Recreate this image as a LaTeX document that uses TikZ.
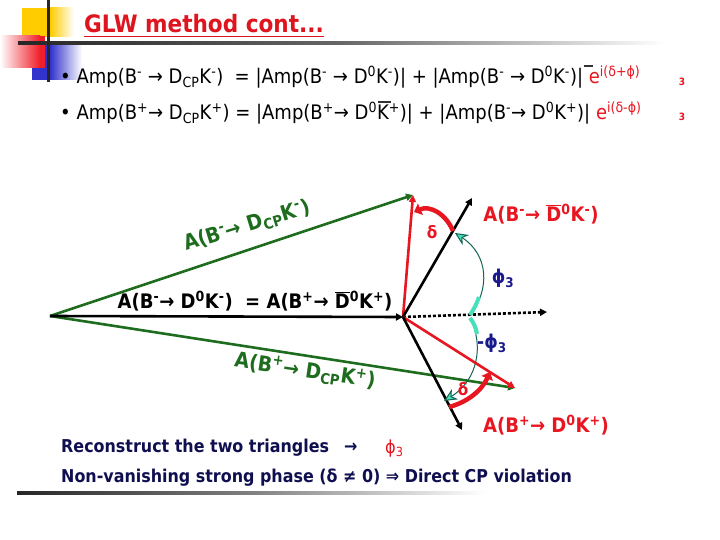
\documentclass[tikz,border=0pt]{standalone}
\usepackage{fontspec}
\setmainfont{DejaVu Sans Condensed}
\usetikzlibrary{arrows.meta}
\definecolor{tred}{RGB}{222,20,30}
\definecolor{dred}{RGB}{232,22,32}
\definecolor{dgreen}{RGB}{30,108,30}
\definecolor{navy}{RGB}{15,15,80}
\definecolor{phiblue}{RGB}{25,25,140}
\definecolor{aqua}{RGB}{70,225,185}
\definecolor{tealdk}{RGB}{20,100,85}
\definecolor{yel}{RGB}{255,204,0}
\definecolor{sqblue}{RGB}{50,50,205}
\definecolor{sqred}{RGB}{240,30,40}
\newcommand\ovl[1]{\leavevmode\vbox{\hrule height 1.5pt \kern 1pt \hbox{#1}}}
\newcommand\sps[1]{\textsuperscript{#1}}
\newcommand\sbs[1]{\textsubscript{#1}}
\tikzset{
  vec/.style={line width=2.6pt,-{Triangle[length=7pt,width=7pt]}},
  blab/.style={font=\bfseries\fontsize{20}{23}\selectfont, inner sep=0pt},
  bullettext/.style={font=\fontsize{20}{23}\selectfont, inner sep=0pt, anchor=base west},
  bottomtext/.style={font=\bfseries\fontsize{17.7}{20}\selectfont, text=navy, inner sep=0pt, anchor=base west},
}
\begin{document}
\begin{tikzpicture}[x=1pt,y=-1pt]
\useasboundingbox (0,0) rectangle (720,540);
% decoration top-left
\fill[yel] (22,8) rectangle (50,37);
\shade[left color=yel, right color=white] (50,8) rectangle (74,37);
\fill[sqblue] (32,43) rectangle (50,80);
\shade[left color=sqblue, right color=white] (50,43) rectangle (82,80);
\shade[left color=white, right color=sqred] (0,36) rectangle (40,68);
\fill[sqred] (40,36) rectangle (45,68);
\shade[left color=black!85, right color=black!60] (18,41.5) rectangle (340,44.5);
\shade[left color=black!60, right color=white] (340,41.5) rectangle (665,44.5);
\fill[black!85] (47,0) rectangle (50,82);
% title
\node[font=\bfseries\fontsize{24}{28}\selectfont, text=tred, inner sep=0pt, anchor=base west] (title) at (84,33) {GLW method cont...};
\draw[tred, line width=1.8pt] ([yshift=-3.5pt]title.base west) -- ([yshift=-3.5pt]title.base east);
% bullets
\node[bullettext] (b1) at (60,84) {• Amp(B\sps{-} → D\sbs{CP}K\sps{-})\ \ = |Amp(B\sps{-} → D\sps{0}K\sps{-})| + |Amp(B\sps{-} → D\sps{0}K\sps{-})|\ {\color{dred}e\sps{i(δ+ϕ)}}};
\node[bullettext] (b2) at (60,120) {• Amp(B\sps{+}→ D\sbs{CP}K\sps{+}) = |Amp(B\sps{+}→ D\sps{0}K\sps{+})| + |Amp(B\sps{-}→ D\sps{0}K\sps{+})|\ {\color{dred}e\sps{i(δ-ϕ)}}};
\draw[black!80, line width=1.5pt] (584,66) -- (593,66);
\draw[black!80, line width=1.5pt] (378,102) -- (391,102);
\node[font=\bfseries\fontsize{10}{11}\selectfont, text=dred, inner sep=0pt] (t1) at (682,82) {3};
\node[font=\bfseries\fontsize{10}{11}\selectfont, text=dred, inner sep=0pt] (t2) at (682,117) {3};
% diagram points
\coordinate (O) at (50,316);
\coordinate (P) at (403,317);
\coordinate (T) at (413,195);
\coordinate (BU) at (472,198);
\coordinate (DE) at (547,312);
\coordinate (L) at (515,388);
\coordinate (BD) at (462,430);
\draw[vec, dgreen] (O) -- (T);
\draw[vec, dgreen] (O) -- (L);
\draw[vec, black] (O) -- (P);
\draw[vec, dred] (P) -- (T);
\draw[vec, black] (P) -- (BU);
\draw[vec, black, dash pattern=on 3pt off 2pt] (P) -- (DE);
\draw[vec, dred] (P) -- (L);
\draw[vec, black] (P) -- (BD);
% curved arrows
\coordinate (d1s) at (453,231);
\coordinate (d1e) at (414,212);
\draw[dred, line width=4.5pt, -{Triangle[length=7pt,width=12pt]}] (d1s) .. controls (446,214) and (430,205) .. (d1e);
\coordinate (d2s) at (449,407);
\coordinate (d2e) at (490,372);
\draw[dred, line width=4.5pt, -{Triangle[length=7pt,width=12pt]}] (d2s) .. controls (468,402) and (482,390) .. (d2e);
\coordinate (p1s) at (470,315);
\coordinate (p1e) at (455,233);
\draw[tealdk, line width=1pt, -{Stealth[length=13pt,width=12pt,fill=aqua]}] (p1s) .. controls (490,290) and (489,255) .. (p1e);
\draw[aqua, line width=4pt] (470,315) .. controls (474,309) and (477,303) .. (479,297);
\coordinate (p2s) at (470,318);
\coordinate (p2e) at (444,401);
\draw[tealdk, line width=1pt, -{Stealth[length=13pt,width=12pt,fill=aqua]}] (p2s) .. controls (484,345) and (478,380) .. (p2e);
\draw[aqua, line width=4pt] (470,318) .. controls (474,323) and (476,328) .. (477,334);
% labels
\node[text=dred, font=\bfseries\fontsize{17}{19}\selectfont, inner sep=0pt] (del1) at (432,232) {δ};
\node[text=dred, font=\bfseries\fontsize{17}{19}\selectfont, inner sep=0pt] (del2) at (463,389) {δ};
\node[text=phiblue, font=\bfseries\fontsize{19}{21}\selectfont, inner sep=0pt] (phi1) at (503,278) {ϕ\sbs{3}};
\node[text=phiblue, font=\bfseries\fontsize{19}{21}\selectfont, inner sep=0pt] (phi2) at (492,343) {-ϕ\sbs{3}};
\node[blab, text=dgreen, rotate=17, font=\bfseries\fontsize{21}{24}\selectfont] (lg1) at (247,226) {A(B\sps{-}→ D\sbs{CP}K\sps{-})};
\node[blab, text=dgreen, rotate=-8.4, font=\bfseries\fontsize{21}{24}\selectfont] (lg2) at (305,371) {A(B\sps{+}→ D\sbs{CP}K\sps{+})};
\node[blab, text=dred] (lr1) at (541,214) {A(B\sps{-}→ \ovl{D}\sps{0}K\sps{-})};
\node[blab, text=dred] (lr2) at (546,425) {A(B\sps{+}→ D\sps{0}K\sps{+})};
\node[blab, text=black] (lb) at (255,301) {A(B\sps{-}→ D\sps{0}K\sps{-})\ \ =\ A(B\sps{+}→ \ovl{D}\sps{0}K\sps{+})};
% bottom
\node[bottomtext] (r1) at (61,452) {Reconstruct the two triangles};
\node[bottomtext, text=navy] (r1a) at (344,452) {→};
\node[bottomtext, text=dred, font=\fontsize{18}{20}\selectfont] (r1b) at (385,453) {ϕ\sbs{3}};
\node[bottomtext] (r2) at (61,482) {Non-vanishing strong phase (δ ≠ 0) ⇒ Direct CP violation};
\shade[left color=black!85, right color=black!50] (17,491.5) rectangle (250,494.5);
\shade[left color=black!50, right color=white] (250,491.5) rectangle (485,494.5);
\end{tikzpicture}
\end{document}
